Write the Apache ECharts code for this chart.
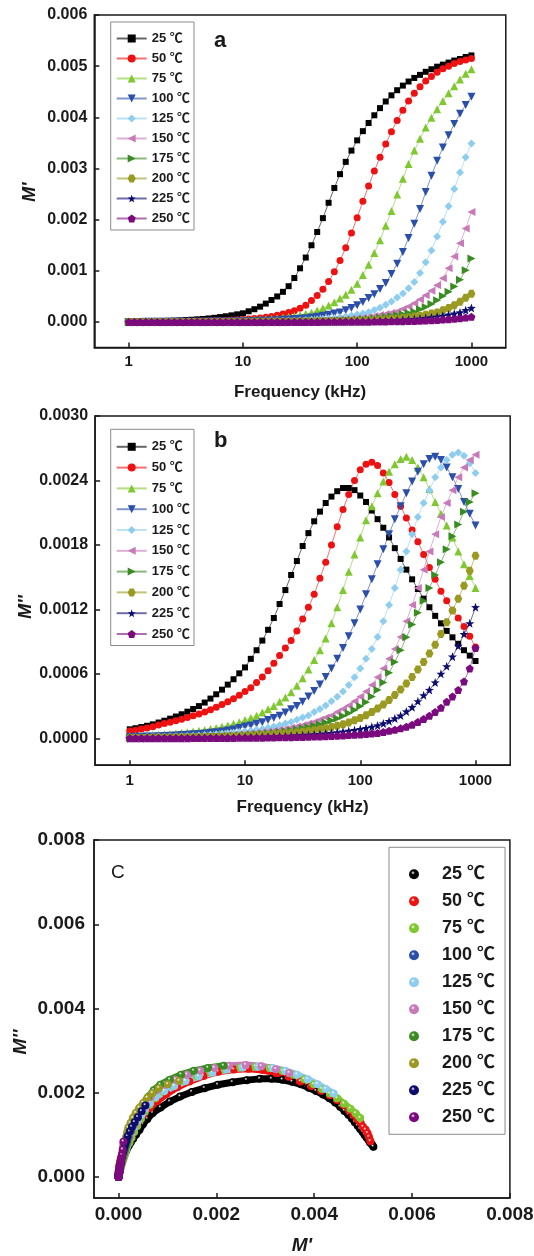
<!DOCTYPE html>
<html><head><meta charset="utf-8">
<script src="https://cdn.jsdelivr.net/npm/echarts@6/dist/echarts.min.js"></script>
<style>html,body{margin:0;padding:0;background:#fff}#chart{width:534px;height:1256px}</style>
</head><body><div id="chart"></div>
<script>
// ---------- data ----------
const tempNames = ['25 ℃','50 ℃','75 ℃','100 ℃','125 ℃','150 ℃','175 ℃','200 ℃','225 ℃','250 ℃'];
const freqTicks = [1, 10, 100, 1000];
const mpTicks = [0, 0.001, 0.002, 0.003, 0.004, 0.005, 0.006];
const mppTicks = [0, 0.0006, 0.0012, 0.0018, 0.0024, 0.003];
const cTicks = [0, 0.002, 0.004, 0.006, 0.008];

const freq = [1,1.122,1.259,1.413,1.585,1.778,1.995,2.239,2.512,2.818,3.162,3.548,3.981,4.467,5.012,5.623,6.31,7.079,7.943,8.913,10,11.22,12.59,14.13,15.85,17.78,19.95,22.39,25.12,28.18,31.62,35.48,39.81,44.67,50.12,56.23,63.1,70.79,79.43,89.13,100,112.2,125.9,141.3,158.5,177.8,199.5,223.9,251.2,281.8,316.2,354.8,398.1,446.7,501.2,562.3,631,707.9,794.3,891.3,1000];

// M' (panel a)
const mp25 = [0.000009,0.00001,0.000012,0.000014,0.000016,0.000018,0.000021,0.000024,0.000028,0.000033,0.000039,0.000045,0.000052,0.00006,0.00007,0.000082,0.000096,0.000112,0.00013,0.00015,0.00017,0.00021,0.00025,0.0003,0.00036,0.00043,0.0005,0.00059,0.0007,0.00086,0.00105,0.00126,0.0015,0.00176,0.00203,0.00233,0.00262,0.00289,0.00313,0.00335,0.00355,0.00373,0.00389,0.00404,0.00418,0.00431,0.00443,0.00453,0.00462,0.0047,0.00477,0.00483,0.00489,0.00494,0.00499,0.00503,0.00507,0.00511,0.00514,0.00518,0.00521];
const mp50 = [0.000003,0.000003,0.000004,0.000004,0.000005,0.000006,0.000007,0.000008,0.000009,0.00001,0.000012,0.000014,0.000016,0.000018,0.000021,0.000024,0.000028,0.000032,0.000037,0.000043,0.00005,0.000058,0.000068,0.00008,0.000093,0.00011,0.00013,0.000155,0.000185,0.00022,0.00027,0.00033,0.00042,0.00052,0.00064,0.00079,0.00098,0.0012,0.00145,0.00174,0.00204,0.00236,0.00266,0.00295,0.00322,0.00348,0.00372,0.00394,0.00414,0.00432,0.00447,0.0046,0.00471,0.0048,0.00488,0.00495,0.005,0.00505,0.00509,0.00512,0.00515];
const mp75 = [0.000002,0.000002,0.000003,0.000003,0.000004,0.000004,0.000005,0.000005,0.000006,0.000007,0.000008,0.000009,0.00001,0.000011,0.000013,0.000015,0.000017,0.000019,0.000022,0.000026,0.00003,0.000035,0.000042,0.000048,0.000056,0.000064,0.000075,0.000088,0.000103,0.00012,0.000139,0.00016,0.000182,0.000225,0.000268,0.000321,0.000385,0.00046,0.000535,0.000631,0.000749,0.00092,0.00112,0.00135,0.0016,0.00188,0.00217,0.00249,0.0028,0.00309,0.00335,0.00358,0.0038,0.00399,0.00416,0.00432,0.00447,0.00461,0.00474,0.00485,0.00494];
const mp100 = [0.000002,0.000002,0.000002,0.000003,0.000003,0.000003,0.000004,0.000004,0.000005,0.000005,0.000006,0.000006,0.000007,0.000007,0.000008,0.000008,0.000009,0.00001,0.000011,0.000013,0.000015,0.000017,0.00002,0.000023,0.000026,0.000031,0.000036,0.000043,0.000049,0.000057,0.000065,0.000076,0.000089,0.000105,0.000122,0.000142,0.000164,0.000185,0.000229,0.000273,0.000327,0.000392,0.000469,0.000545,0.000643,0.000763,0.000937,0.00114,0.00137,0.00164,0.00192,0.00221,0.00254,0.00286,0.00315,0.00341,0.00365,0.00387,0.00407,0.00424,0.0044];
const mp125 = [0.000001,0.000001,0.000001,0.000002,0.000002,0.000002,0.000002,0.000003,0.000003,0.000003,0.000004,0.000004,0.000004,0.000005,0.000005,0.000006,0.000006,0.000007,0.000007,0.000008,0.000009,0.000009,0.00001,0.000011,0.000013,0.000016,0.000018,0.00002,0.000023,0.000027,0.000031,0.000037,0.000043,0.00005,0.000058,0.000067,0.000078,0.000091,0.000107,0.000125,0.000145,0.000167,0.00019,0.000234,0.000279,0.000335,0.000401,0.000479,0.000558,0.000658,0.00078,0.000959,0.00117,0.0014,0.00167,0.00196,0.00226,0.0026,0.00292,0.00322,0.00349];
const mp150 = [0.000001,0.000001,0.000001,0.000001,0.000001,0.000002,0.000002,0.000002,0.000002,0.000002,0.000003,0.000003,0.000003,0.000003,0.000004,0.000004,0.000004,0.000005,0.000005,0.000006,0.000006,0.000007,0.000007,0.000008,0.000008,0.000009,0.00001,0.000011,0.000012,0.000015,0.000017,0.00002,0.000022,0.000026,0.000029,0.000034,0.00004,0.000048,0.000055,0.000063,0.000073,0.000085,0.0001,0.000117,0.000137,0.000159,0.000183,0.000207,0.000256,0.000305,0.000366,0.000439,0.000525,0.00061,0.00072,0.000854,0.00105,0.00128,0.00154,0.00183,0.00215];
const mp175 = [0.000001,0.000001,0.000001,0.000001,0.000001,0.000001,0.000001,0.000001,0.000001,0.000001,0.000002,0.000002,0.000002,0.000002,0.000002,0.000002,0.000002,0.000003,0.000003,0.000003,0.000004,0.000004,0.000005,0.000005,0.000006,0.000006,0.000007,0.000008,0.000009,0.00001,0.000011,0.000012,0.000014,0.000017,0.000019,0.000021,0.000025,0.000028,0.000033,0.000039,0.000046,0.000053,0.000061,0.000071,0.000083,0.000097,0.000113,0.000132,0.000153,0.000177,0.000201,0.000248,0.000295,0.000354,0.000425,0.000507,0.00059,0.000696,0.000826,0.00101,0.00124];
const mp200 = [0.000001,0.000001,0.000001,0.000001,0.000001,0.000001,0.000001,0.000001,0.000001,0.000001,0.000001,0.000001,0.000001,0.000001,0.000002,0.000002,0.000002,0.000002,0.000002,0.000002,0.000002,0.000002,0.000003,0.000003,0.000003,0.000003,0.000004,0.000004,0.000004,0.000005,0.000005,0.000006,0.000007,0.000008,0.00001,0.000011,0.000013,0.000015,0.000018,0.00002,0.000023,0.000026,0.000031,0.000036,0.000043,0.00005,0.000057,0.000066,0.000077,0.00009,0.000106,0.000123,0.000143,0.000165,0.000187,0.000231,0.000275,0.00033,0.000396,0.000473,0.00055];
const mp225 = [0.000001,0.000001,0.000001,0.000001,0.000001,0.000001,0.000001,0.000001,0.000001,0.000001,0.000001,0.000001,0.000001,0.000001,0.000001,0.000001,0.000001,0.000001,0.000002,0.000002,0.000002,0.000002,0.000002,0.000002,0.000002,0.000002,0.000002,0.000002,0.000003,0.000003,0.000003,0.000003,0.000004,0.000004,0.000005,0.000005,0.000006,0.000008,0.00001,0.000011,0.000013,0.000015,0.000018,0.00002,0.000023,0.000026,0.000031,0.000036,0.000043,0.00005,0.000057,0.000066,0.000077,0.00009,0.000106,0.000123,0.000143,0.000165,0.000187,0.000231,0.000275];
const mp250 = [0.000001,0.000001,0.000001,0.000001,0.000001,0.000001,0.000001,0.000001,0.000001,0.000001,0.000001,0.000001,0.000001,0.000001,0.000001,0.000001,0.000001,0.000001,0.000001,0.000001,0.000001,0.000001,0.000001,0.000001,0.000002,0.000002,0.000002,0.000002,0.000002,0.000002,0.000002,0.000002,0.000002,0.000002,0.000003,0.000003,0.000003,0.000003,0.000004,0.000004,0.000005,0.000005,0.000006,0.000008,0.00001,0.000011,0.000013,0.000015,0.000017,0.000019,0.000022,0.000025,0.000029,0.000035,0.000041,0.000047,0.000055,0.000063,0.000074,0.000086,0.000101];

// M'' (panel b)
const mpp25 = [0.000084,0.000094,0.000105,0.000117,0.00013,0.000147,0.000164,0.000183,0.000203,0.000224,0.000248,0.000273,0.0003,0.000333,0.00037,0.00041,0.000453,0.0005,0.00055,0.000605,0.00066,0.00074,0.00082,0.00091,0.00101,0.00112,0.00125,0.00138,0.00152,0.00165,0.00179,0.00191,0.00202,0.00211,0.00219,0.00225,0.0023,0.00233,0.00233,0.00231,0.00226,0.0022,0.00212,0.00204,0.00196,0.00187,0.00177,0.00167,0.00157,0.00148,0.00139,0.0013,0.00122,0.00114,0.00107,0.001,0.00094,0.00088,0.00082,0.00077,0.00072];
const mpp50 = [0.000068,0.000076,0.000086,0.000097,0.000109,0.000124,0.000137,0.00015,0.000163,0.000178,0.000194,0.00021,0.000226,0.000245,0.000267,0.00029,0.000314,0.00034,0.000368,0.0004,0.000435,0.00047,0.00052,0.00057,0.00063,0.0007,0.00077,0.00084,0.00091,0.001,0.00111,0.00122,0.00134,0.00149,0.00164,0.0018,0.00197,0.00213,0.00227,0.0024,0.0025,0.00255,0.00257,0.00254,0.00247,0.00238,0.00227,0.00216,0.00205,0.00194,0.00183,0.00171,0.00159,0.00148,0.00137,0.00128,0.00119,0.00112,0.00104,0.00095,0.00085];
const mpp75 = [0.00002,0.000022,0.000024,0.000027,0.00003,0.000033,0.000037,0.000041,0.000046,0.000051,0.000057,0.000063,0.00007,0.000078,0.000087,0.000097,0.000108,0.00012,0.000135,0.00015,0.00017,0.00019,0.00021,0.00024,0.00027,0.0003,0.00034,0.00038,0.00043,0.00049,0.00056,0.00064,0.00073,0.00082,0.00093,0.00107,0.00122,0.00138,0.00155,0.00171,0.00187,0.00203,0.00216,0.00228,0.00239,0.00248,0.00255,0.0026,0.00262,0.00259,0.00252,0.00243,0.00232,0.0022,0.00209,0.00198,0.00187,0.00174,0.00162,0.00151,0.0014];
const mpp100 = [0.000012,0.000014,0.000015,0.000017,0.000018,0.00002,0.000022,0.000024,0.000027,0.00003,0.000033,0.000037,0.000041,0.000046,0.000051,0.000057,0.000063,0.000072,0.000083,0.000096,0.00011,0.00012,0.000135,0.00015,0.00017,0.00019,0.00021,0.00024,0.00027,0.0003,0.00034,0.00039,0.00044,0.0005,0.00057,0.00065,0.00074,0.00084,0.00095,0.00107,0.0012,0.00134,0.00148,0.00162,0.00176,0.0019,0.00204,0.00216,0.00228,0.00239,0.00248,0.00255,0.0026,0.00262,0.00259,0.00252,0.00243,0.00232,0.0022,0.00209,0.00198];
const mpp125 = [0.000009,0.00001,0.000011,0.000012,0.000013,0.000014,0.000015,0.000017,0.000018,0.00002,0.000022,0.000024,0.000027,0.00003,0.000034,0.000038,0.000042,0.000047,0.000052,0.000058,0.000064,0.000071,0.000079,0.000088,0.000098,0.00011,0.000122,0.000137,0.000152,0.000173,0.000193,0.000213,0.000244,0.000274,0.000305,0.000345,0.000386,0.000436,0.000497,0.000568,0.00065,0.00074,0.000832,0.000944,0.00109,0.00124,0.0014,0.00157,0.00174,0.0019,0.00206,0.00219,0.00231,0.00243,0.00252,0.00259,0.00264,0.00266,0.00263,0.00256,0.00247];
const mpp150 = [0.000007,0.0000075,0.000008,0.0000088,0.0000095,0.00001,0.000011,0.000012,0.000013,0.000014,0.000015,0.000016,0.000018,0.00002,0.000022,0.000024,0.000027,0.00003,0.000034,0.000038,0.000042,0.000047,0.000052,0.000058,0.000064,0.000071,0.000079,0.000088,0.000098,0.00011,0.000122,0.000137,0.000152,0.000173,0.000193,0.000213,0.000244,0.000274,0.000305,0.000345,0.000386,0.000436,0.000497,0.000568,0.00065,0.00074,0.000832,0.000944,0.00109,0.00124,0.0014,0.00157,0.00174,0.0019,0.00206,0.00219,0.00231,0.00243,0.00252,0.00259,0.00264];
const mpp175 = [0.0000034,0.0000038,0.0000042,0.0000047,0.0000052,0.0000058,0.0000065,0.0000072,0.000008,0.000009,0.00001,0.000011,0.000012,0.000014,0.000015,0.000017,0.000019,0.000021,0.000024,0.000026,0.000029,0.000033,0.000037,0.000042,0.000047,0.000052,0.000059,0.000066,0.000074,0.000083,0.000093,0.000104,0.000117,0.000131,0.000147,0.000165,0.000185,0.000207,0.000234,0.000264,0.000298,0.000336,0.00039,0.00045,0.00052,0.00061,0.00071,0.00082,0.00094,0.00106,0.00117,0.00128,0.0014,0.00152,0.00164,0.00176,0.00188,0.00199,0.00211,0.0022,0.00228];
const mpp200 = [0.0000032,0.0000035,0.0000039,0.0000043,0.0000047,0.0000051,0.0000056,0.0000062,0.0000068,0.0000075,0.0000082,0.000009,0.00001,0.000011,0.000012,0.000013,0.000014,0.000016,0.000017,0.000019,0.000021,0.000024,0.000026,0.000029,0.000032,0.000036,0.00004,0.000044,0.000049,0.000055,0.000061,0.000068,0.000076,0.000085,0.000095,0.000106,0.000118,0.000132,0.000148,0.000168,0.00019,0.000215,0.000245,0.000278,0.000315,0.000357,0.000403,0.000455,0.00051,0.00057,0.00064,0.00071,0.00079,0.00087,0.00097,0.00108,0.00119,0.0013,0.00142,0.00156,0.0017];
const mpp225 = [0.0000016,0.0000017,0.0000019,0.0000021,0.0000023,0.0000025,0.0000027,0.000003,0.0000033,0.0000036,0.0000039,0.0000043,0.0000047,0.0000051,0.0000056,0.0000062,0.0000068,0.0000075,0.0000082,0.000009,0.00001,0.000011,0.000012,0.000014,0.000015,0.000017,0.000019,0.000021,0.000023,0.000026,0.000029,0.000032,0.000036,0.00004,0.000045,0.00005,0.000056,0.000062,0.000069,0.000077,0.000086,0.000096,0.000107,0.00012,0.000138,0.00016,0.000185,0.000212,0.00025,0.00029,0.000345,0.0004,0.00045,0.00052,0.0006,0.00067,0.00076,0.00086,0.00097,0.00107,0.00122];
const mpp250 = [0.0000006,0.0000007,0.0000008,0.0000009,0.000001,0.0000011,0.0000012,0.0000013,0.0000015,0.0000016,0.0000018,0.000002,0.0000022,0.0000024,0.0000027,0.000003,0.0000033,0.0000036,0.000004,0.0000044,0.0000049,0.0000054,0.000006,0.0000066,0.0000073,0.000008,0.000009,0.00001,0.000011,0.000012,0.000013,0.000014,0.000016,0.000018,0.00002,0.000022,0.000024,0.000027,0.00003,0.000033,0.000036,0.00004,0.000045,0.00005,0.00006,0.00007,0.00008,0.000093,0.000108,0.000127,0.000152,0.00018,0.00021,0.000245,0.000285,0.00034,0.00039,0.00045,0.00053,0.00065,0.00084];

// panel c: which measured data set is drawn under each legend entry (as seen in the original figure)
const cSource = [0, 1, 2, 8, 3, 4, 5, 6, 7, 9];

// ---------- styling ----------
const mpAll = [mp25, mp50, mp75, mp100, mp125, mp150, mp175, mp200, mp225, mp250];
const mppAll = [mpp25, mpp50, mpp75, mpp100, mpp125, mpp150, mpp175, mpp200, mpp225, mpp250];
const FONT = '"Liberation Sans", Arial, "Noto Sans CJK SC", sans-serif';
const TXT = '#1a1a1a';
const colors = ['#000000','#ee1111','#80c832','#2b4fa8','#8fcdee','#c77ab8','#3a8c22','#9a9a22','#0c0c6e','#7a0a7d'];
const HEX = 'path://M-5,-8.66L5,-8.66L10,0L5,8.66L-5,8.66L-10,0Z';
const STAR = 'path://M0,-10L2.35,-3.24L9.51,-3.09L3.8,1.24L5.88,8.09L0,4L-5.88,8.09L-3.8,1.24L-9.51,-3.09L-2.35,-3.24Z';
const PENT = 'path://M0,-10L9.51,-3.09L5.88,8.09L-5.88,8.09L-9.51,-3.09Z';
const symbols = ['rect','circle','triangle','triangle','diamond','triangle','triangle',HEX,STAR,PENT];
const rotates = [0,0,0,180,0,90,-90,0,0,0];
const sizes = [6,7,8,8,8,8,8,8,9,8];

function ball(c) {
  return {type:'radial', x:0.4, y:0.35, r:0.65, colorStops:[
    {offset:0, color:'#ffffff'}, {offset:0.3, color:c}, {offset:1, color:c}]};
}

const axLine = {show:true, onZero:false, lineStyle:{color:TXT, width:1.5}};
function tick(vals){ return {show:true, inside:true, length:5, customValues:vals, lineStyle:{color:TXT, width:1.5}}; }
function lab(vals, fs, fmt, margin){ return {show:true, customValues:vals, formatter:fmt, fontSize:fs, fontWeight:'bold', color:TXT, fontFamily:FONT, margin:margin}; }
const gridBox = {show:true, borderColor:TXT, borderWidth:1.5, backgroundColor:'#fff', outerBoundsMode:'none', containLabel:false};

const series = [];
for (let p = 0; p < 2; p++) {
  const vals = p === 0 ? mpAll : mppAll;
  for (let i = 0; i < 10; i++) {
    series.push({
      type:'line', name:tempNames[i], xAxisIndex:p, yAxisIndex:p,
      data: freq.map((f, j) => [f, vals[i][j]]),
      symbol:symbols[i], symbolSize:sizes[i], symbolRotate:rotates[i], showAllSymbol:true,
      itemStyle:{color:colors[i]}, lineStyle:{color:colors[i], width:1, opacity:0.6},
      emphasis:{disabled:true}, silent:true, animation:false
    });
  }
}
for (let i = 0; i < 10; i++) {
  const s = cSource[i];
  series.push({
    type:'line', name:tempNames[i], xAxisIndex:2, yAxisIndex:2,
    data: mpAll[s].map((x, j) => [x, mppAll[s][j]]),
    symbol:'circle', symbolSize:8, showAllSymbol:true,
    itemStyle:{color:ball(colors[i])}, lineStyle:{color:colors[i], width:7, cap:'round', join:'round'},
    emphasis:{disabled:true}, silent:true, animation:false
  });
}

const legendBase = {orient:'vertical', selectedMode:false, borderColor:'#8a8a8a', borderWidth:1, backgroundColor:'#fff'};
const nameStyle = (fs) => ({fontSize:fs, fontWeight:'bold', color:TXT, fontFamily:FONT});
const option = {
  animation:false,
  textStyle:{fontFamily:FONT, color:TXT},
  grid:[
    Object.assign({left:94.3, top:15, width:411.5, height:332.6}, gridBox),
    Object.assign({left:95.1, top:416, width:415.1, height:349.2}, gridBox),
    Object.assign({left:94, top:840, width:415.9, height:358.1}, gridBox)
  ],
  xAxis:[
    {gridIndex:0, type:'log', logBase:10, min:0.5, max:2000, axisLine:axLine, axisTick:tick(freqTicks),
     axisLabel:lab(freqTicks, 15, v => String(Math.round(v)), 7), splitLine:{show:false}, minorTick:{show:false},
     name:'Frequency (kHz)', nameLocation:'middle', nameGap:36, nameTextStyle:nameStyle(17)},
    {gridIndex:1, type:'log', logBase:10, min:0.5, max:2000, axisLine:axLine, axisTick:tick(freqTicks),
     axisLabel:lab(freqTicks, 15, v => String(Math.round(v)), 8), splitLine:{show:false}, minorTick:{show:false},
     name:'Frequency (kHz)', nameLocation:'middle', nameGap:34, nameTextStyle:nameStyle(17)},
    {gridIndex:2, type:'value', min:-0.0005, max:0.008, axisLine:axLine, axisTick:tick(cTicks),
     axisLabel:lab(cTicks, 19, v => v.toFixed(3), 7), splitLine:{show:false},
     name:"M'", nameLocation:'middle', nameGap:38, nameTextStyle:Object.assign(nameStyle(19), {fontStyle:'italic'})}
  ],
  yAxis:[
    {gridIndex:0, type:'value', min:-0.0005, max:0.006, axisLine:axLine, axisTick:tick(mpTicks),
     axisLabel:lab(mpTicks, 16, v => v.toFixed(3), 7), splitLine:{show:false}},
    {gridIndex:1, type:'value', min:-0.00025, max:0.003, axisLine:axLine, axisTick:tick(mppTicks),
     axisLabel:lab(mppTicks, 16, v => v.toFixed(4), 7), splitLine:{show:false}},
    {gridIndex:2, type:'value', min:-0.0005, max:0.008, axisLine:axLine, axisTick:tick(cTicks),
     axisLabel:lab(cTicks, 19, v => v.toFixed(3), 9), splitLine:{show:false}}
  ],
  legend:[
    Object.assign({left:110.7, top:22, data:tempNames, itemWidth:30, itemHeight:10, itemGap:7, padding:[10,4,5,5],
      textStyle:{fontSize:13, fontWeight:'bold', color:TXT, fontFamily:FONT}}, legendBase),
    Object.assign({left:110.7, top:429.3, data:tempNames, itemWidth:30, itemHeight:10, itemGap:7.8, padding:[11,4,5,5],
      textStyle:{fontSize:13, fontWeight:'bold', color:TXT, fontFamily:FONT}}, legendBase),
    Object.assign({left:389, top:847.3, itemWidth:46, itemHeight:10, itemGap:9, padding:[18,10,8,20],
      data: tempNames.map((n, i) => ({name:n, icon:'circle', itemStyle:{color:ball(colors[i]), borderWidth:0}})),
      textStyle:{fontSize:18, fontWeight:'bold', color:TXT, fontFamily:FONT}}, legendBase)
  ],
  graphic:[
    {type:'text', left:214, top:30, style:{text:'a', font:'bold 22px ' + FONT, fill:TXT}},
    {type:'text', left:214, top:430, style:{text:'b', font:'bold 22px ' + FONT, fill:TXT}},
    {type:'text', left:111, top:863, style:{text:'C', font:'19px ' + FONT, fill:TXT}},
    {type:'text', x:30, y:192, rotation:Math.PI/2, style:{text:"M'", font:'italic bold 18px ' + FONT, fill:TXT, align:'center', verticalAlign:'middle'}},
    {type:'text', x:26, y:607, rotation:Math.PI/2, style:{text:"M''", font:'italic bold 18px ' + FONT, fill:TXT, align:'center', verticalAlign:'middle'}},
    {type:'text', x:21, y:1042, rotation:Math.PI/2, style:{text:"M''", font:'italic bold 19px ' + FONT, fill:TXT, align:'center', verticalAlign:'middle'}}
  ],
  series: series
};
const chart = echarts.init(document.getElementById('chart'), null, {renderer:'canvas'});
chart.setOption(option);
</script></body></html>
